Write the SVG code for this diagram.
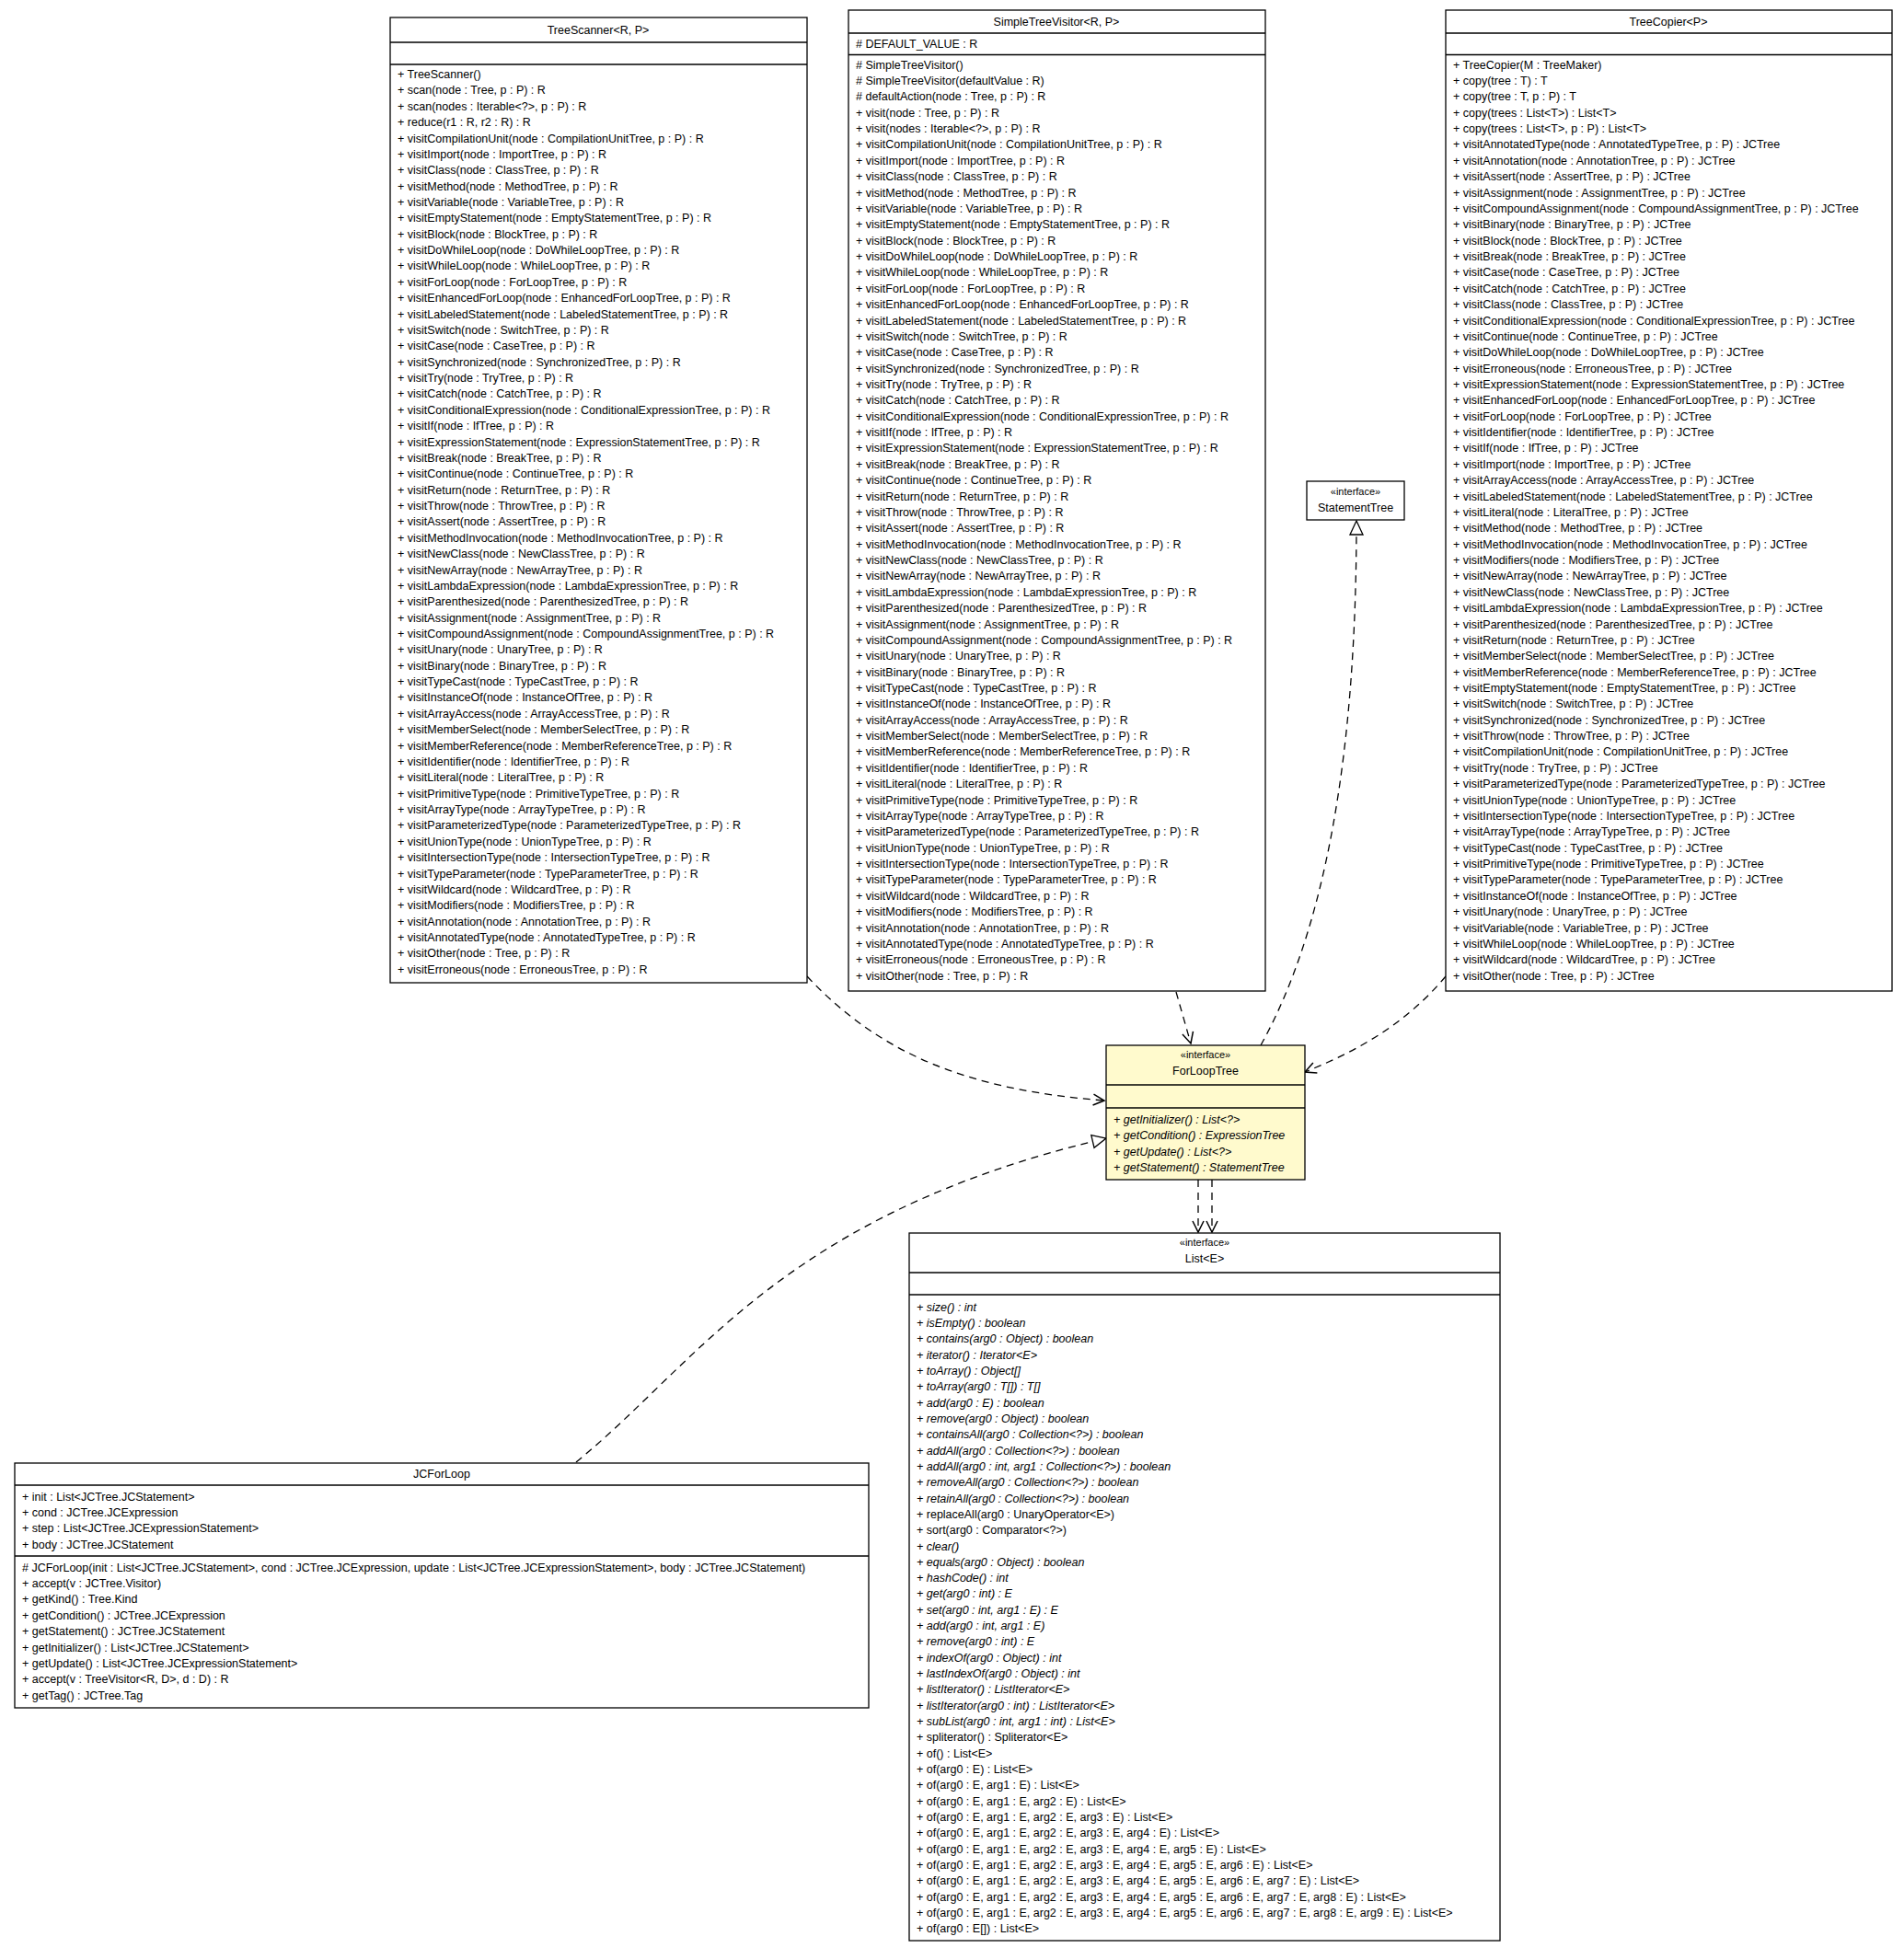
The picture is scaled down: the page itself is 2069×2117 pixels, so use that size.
<svg xmlns="http://www.w3.org/2000/svg" width="2069" height="2117" viewBox="0 0 2069 2117">
<style>
text{font-family:"Liberation Sans",Arial,sans-serif;font-size:12.5px;fill:#000}
.c{text-anchor:middle}
.i{font-style:italic}
.box{fill:#fff;stroke:#000;stroke-width:1.3}
.y{fill:#fffacd}
.ln{stroke:#000;stroke-width:1.3}
.e{fill:none;stroke:#000;stroke-width:1.3;stroke-dasharray:8,6}
</style>
<defs>
<marker id="open" markerWidth="16" markerHeight="16" refX="13" refY="8" orient="auto" markerUnits="userSpaceOnUse">
<path d="M1,2 L13,8 L1,14" fill="none" stroke="#000" stroke-width="1.5"/>
</marker>
<marker id="tri" markerWidth="20" markerHeight="20" refX="17" refY="10" orient="auto" markerUnits="userSpaceOnUse">
<path d="M2,3 L17,10 L2,17 Z" fill="#fff" stroke="#000" stroke-width="1.3"/>
</marker>
</defs>
<rect width="2069" height="2117" fill="#fff"/>

<g id="edges">
<path class="e" d="M877,1061 C960,1150 1060,1185 1200,1196" marker-end="url(#open)"/>
<path class="e" d="M1278,1078 L1294,1134" marker-end="url(#open)"/>
<path class="e" d="M1370,1136 C1440,1010 1474,820 1474,566" marker-end="url(#tri)"/>
<path class="e" d="M1571,1061 C1530,1110 1480,1140 1418,1165" marker-end="url(#open)"/>
<path class="e" d="M626,1589 C760,1480 850,1320 1202,1237" marker-end="url(#tri)"/>
<path class="e" d="M1302,1282 L1302,1339" marker-end="url(#open)"/>
<path class="e" d="M1317,1282 L1317,1339" marker-end="url(#open)"/>
</g>

<g id="TreeScanner">
<rect class="box" x="424" y="19" width="453" height="1049"/>
<line class="ln" x1="424" y1="46" x2="877" y2="46"/>
<line class="ln" x1="424" y1="70" x2="877" y2="70"/>
<text class="c" x="650" y="37">TreeScanner&lt;R, P&gt;</text>
<text x="432" y="85">+ TreeScanner()</text>
<text x="432" y="102.4">+ scan(node : Tree, p : P) : R</text>
<text x="432" y="119.7">+ scan(nodes : Iterable&lt;?&gt;, p : P) : R</text>
<text x="432" y="137.1">+ reduce(r1 : R, r2 : R) : R</text>
<text x="432" y="154.5">+ visitCompilationUnit(node : CompilationUnitTree, p : P) : R</text>
<text x="432" y="171.9">+ visitImport(node : ImportTree, p : P) : R</text>
<text x="432" y="189.2">+ visitClass(node : ClassTree, p : P) : R</text>
<text x="432" y="206.6">+ visitMethod(node : MethodTree, p : P) : R</text>
<text x="432" y="224">+ visitVariable(node : VariableTree, p : P) : R</text>
<text x="432" y="241.3">+ visitEmptyStatement(node : EmptyStatementTree, p : P) : R</text>
<text x="432" y="258.7">+ visitBlock(node : BlockTree, p : P) : R</text>
<text x="432" y="276.1">+ visitDoWhileLoop(node : DoWhileLoopTree, p : P) : R</text>
<text x="432" y="293.4">+ visitWhileLoop(node : WhileLoopTree, p : P) : R</text>
<text x="432" y="310.8">+ visitForLoop(node : ForLoopTree, p : P) : R</text>
<text x="432" y="328.2">+ visitEnhancedForLoop(node : EnhancedForLoopTree, p : P) : R</text>
<text x="432" y="345.6">+ visitLabeledStatement(node : LabeledStatementTree, p : P) : R</text>
<text x="432" y="362.9">+ visitSwitch(node : SwitchTree, p : P) : R</text>
<text x="432" y="380.3">+ visitCase(node : CaseTree, p : P) : R</text>
<text x="432" y="397.7">+ visitSynchronized(node : SynchronizedTree, p : P) : R</text>
<text x="432" y="415">+ visitTry(node : TryTree, p : P) : R</text>
<text x="432" y="432.4">+ visitCatch(node : CatchTree, p : P) : R</text>
<text x="432" y="449.8">+ visitConditionalExpression(node : ConditionalExpressionTree, p : P) : R</text>
<text x="432" y="467.1">+ visitIf(node : IfTree, p : P) : R</text>
<text x="432" y="484.5">+ visitExpressionStatement(node : ExpressionStatementTree, p : P) : R</text>
<text x="432" y="501.9">+ visitBreak(node : BreakTree, p : P) : R</text>
<text x="432" y="519.3">+ visitContinue(node : ContinueTree, p : P) : R</text>
<text x="432" y="536.6">+ visitReturn(node : ReturnTree, p : P) : R</text>
<text x="432" y="554">+ visitThrow(node : ThrowTree, p : P) : R</text>
<text x="432" y="571.4">+ visitAssert(node : AssertTree, p : P) : R</text>
<text x="432" y="588.7">+ visitMethodInvocation(node : MethodInvocationTree, p : P) : R</text>
<text x="432" y="606.1">+ visitNewClass(node : NewClassTree, p : P) : R</text>
<text x="432" y="623.5">+ visitNewArray(node : NewArrayTree, p : P) : R</text>
<text x="432" y="640.8">+ visitLambdaExpression(node : LambdaExpressionTree, p : P) : R</text>
<text x="432" y="658.2">+ visitParenthesized(node : ParenthesizedTree, p : P) : R</text>
<text x="432" y="675.6">+ visitAssignment(node : AssignmentTree, p : P) : R</text>
<text x="432" y="693">+ visitCompoundAssignment(node : CompoundAssignmentTree, p : P) : R</text>
<text x="432" y="710.3">+ visitUnary(node : UnaryTree, p : P) : R</text>
<text x="432" y="727.7">+ visitBinary(node : BinaryTree, p : P) : R</text>
<text x="432" y="745.1">+ visitTypeCast(node : TypeCastTree, p : P) : R</text>
<text x="432" y="762.4">+ visitInstanceOf(node : InstanceOfTree, p : P) : R</text>
<text x="432" y="779.8">+ visitArrayAccess(node : ArrayAccessTree, p : P) : R</text>
<text x="432" y="797.2">+ visitMemberSelect(node : MemberSelectTree, p : P) : R</text>
<text x="432" y="814.5">+ visitMemberReference(node : MemberReferenceTree, p : P) : R</text>
<text x="432" y="831.9">+ visitIdentifier(node : IdentifierTree, p : P) : R</text>
<text x="432" y="849.3">+ visitLiteral(node : LiteralTree, p : P) : R</text>
<text x="432" y="866.7">+ visitPrimitiveType(node : PrimitiveTypeTree, p : P) : R</text>
<text x="432" y="884">+ visitArrayType(node : ArrayTypeTree, p : P) : R</text>
<text x="432" y="901.4">+ visitParameterizedType(node : ParameterizedTypeTree, p : P) : R</text>
<text x="432" y="918.8">+ visitUnionType(node : UnionTypeTree, p : P) : R</text>
<text x="432" y="936.1">+ visitIntersectionType(node : IntersectionTypeTree, p : P) : R</text>
<text x="432" y="953.5">+ visitTypeParameter(node : TypeParameterTree, p : P) : R</text>
<text x="432" y="970.9">+ visitWildcard(node : WildcardTree, p : P) : R</text>
<text x="432" y="988.2">+ visitModifiers(node : ModifiersTree, p : P) : R</text>
<text x="432" y="1005.6">+ visitAnnotation(node : AnnotationTree, p : P) : R</text>
<text x="432" y="1023">+ visitAnnotatedType(node : AnnotatedTypeTree, p : P) : R</text>
<text x="432" y="1040.4">+ visitOther(node : Tree, p : P) : R</text>
<text x="432" y="1057.7">+ visitErroneous(node : ErroneousTree, p : P) : R</text>
</g>

<g id="SimpleTreeVisitor">
<rect class="box" x="922" y="11" width="453" height="1066"/>
<line class="ln" x1="922" y1="36" x2="1375" y2="36"/>
<line class="ln" x1="922" y1="59.5" x2="1375" y2="59.5"/>
<text class="c" x="1148" y="28">SimpleTreeVisitor&lt;R, P&gt;</text>
<text x="930" y="52">#  DEFAULT_VALUE : R</text>
<text x="930" y="74.5"># SimpleTreeVisitor()</text>
<text x="930" y="91.9"># SimpleTreeVisitor(defaultValue : R)</text>
<text x="930" y="109.3"># defaultAction(node : Tree, p : P) : R</text>
<text x="930" y="126.6">+ visit(node : Tree, p : P) : R</text>
<text x="930" y="144">+ visit(nodes : Iterable&lt;?&gt;, p : P) : R</text>
<text x="930" y="161.4">+ visitCompilationUnit(node : CompilationUnitTree, p : P) : R</text>
<text x="930" y="178.7">+ visitImport(node : ImportTree, p : P) : R</text>
<text x="930" y="196.1">+ visitClass(node : ClassTree, p : P) : R</text>
<text x="930" y="213.5">+ visitMethod(node : MethodTree, p : P) : R</text>
<text x="930" y="230.9">+ visitVariable(node : VariableTree, p : P) : R</text>
<text x="930" y="248.2">+ visitEmptyStatement(node : EmptyStatementTree, p : P) : R</text>
<text x="930" y="265.6">+ visitBlock(node : BlockTree, p : P) : R</text>
<text x="930" y="283">+ visitDoWhileLoop(node : DoWhileLoopTree, p : P) : R</text>
<text x="930" y="300.3">+ visitWhileLoop(node : WhileLoopTree, p : P) : R</text>
<text x="930" y="317.7">+ visitForLoop(node : ForLoopTree, p : P) : R</text>
<text x="930" y="335.1">+ visitEnhancedForLoop(node : EnhancedForLoopTree, p : P) : R</text>
<text x="930" y="352.5">+ visitLabeledStatement(node : LabeledStatementTree, p : P) : R</text>
<text x="930" y="369.8">+ visitSwitch(node : SwitchTree, p : P) : R</text>
<text x="930" y="387.2">+ visitCase(node : CaseTree, p : P) : R</text>
<text x="930" y="404.6">+ visitSynchronized(node : SynchronizedTree, p : P) : R</text>
<text x="930" y="421.9">+ visitTry(node : TryTree, p : P) : R</text>
<text x="930" y="439.3">+ visitCatch(node : CatchTree, p : P) : R</text>
<text x="930" y="456.7">+ visitConditionalExpression(node : ConditionalExpressionTree, p : P) : R</text>
<text x="930" y="474">+ visitIf(node : IfTree, p : P) : R</text>
<text x="930" y="491.4">+ visitExpressionStatement(node : ExpressionStatementTree, p : P) : R</text>
<text x="930" y="508.8">+ visitBreak(node : BreakTree, p : P) : R</text>
<text x="930" y="526.2">+ visitContinue(node : ContinueTree, p : P) : R</text>
<text x="930" y="543.5">+ visitReturn(node : ReturnTree, p : P) : R</text>
<text x="930" y="560.9">+ visitThrow(node : ThrowTree, p : P) : R</text>
<text x="930" y="578.3">+ visitAssert(node : AssertTree, p : P) : R</text>
<text x="930" y="595.6">+ visitMethodInvocation(node : MethodInvocationTree, p : P) : R</text>
<text x="930" y="613">+ visitNewClass(node : NewClassTree, p : P) : R</text>
<text x="930" y="630.4">+ visitNewArray(node : NewArrayTree, p : P) : R</text>
<text x="930" y="647.7">+ visitLambdaExpression(node : LambdaExpressionTree, p : P) : R</text>
<text x="930" y="665.1">+ visitParenthesized(node : ParenthesizedTree, p : P) : R</text>
<text x="930" y="682.5">+ visitAssignment(node : AssignmentTree, p : P) : R</text>
<text x="930" y="699.9">+ visitCompoundAssignment(node : CompoundAssignmentTree, p : P) : R</text>
<text x="930" y="717.2">+ visitUnary(node : UnaryTree, p : P) : R</text>
<text x="930" y="734.6">+ visitBinary(node : BinaryTree, p : P) : R</text>
<text x="930" y="752">+ visitTypeCast(node : TypeCastTree, p : P) : R</text>
<text x="930" y="769.3">+ visitInstanceOf(node : InstanceOfTree, p : P) : R</text>
<text x="930" y="786.7">+ visitArrayAccess(node : ArrayAccessTree, p : P) : R</text>
<text x="930" y="804.1">+ visitMemberSelect(node : MemberSelectTree, p : P) : R</text>
<text x="930" y="821.4">+ visitMemberReference(node : MemberReferenceTree, p : P) : R</text>
<text x="930" y="838.8">+ visitIdentifier(node : IdentifierTree, p : P) : R</text>
<text x="930" y="856.2">+ visitLiteral(node : LiteralTree, p : P) : R</text>
<text x="930" y="873.6">+ visitPrimitiveType(node : PrimitiveTypeTree, p : P) : R</text>
<text x="930" y="890.9">+ visitArrayType(node : ArrayTypeTree, p : P) : R</text>
<text x="930" y="908.3">+ visitParameterizedType(node : ParameterizedTypeTree, p : P) : R</text>
<text x="930" y="925.7">+ visitUnionType(node : UnionTypeTree, p : P) : R</text>
<text x="930" y="943">+ visitIntersectionType(node : IntersectionTypeTree, p : P) : R</text>
<text x="930" y="960.4">+ visitTypeParameter(node : TypeParameterTree, p : P) : R</text>
<text x="930" y="977.8">+ visitWildcard(node : WildcardTree, p : P) : R</text>
<text x="930" y="995.1">+ visitModifiers(node : ModifiersTree, p : P) : R</text>
<text x="930" y="1012.5">+ visitAnnotation(node : AnnotationTree, p : P) : R</text>
<text x="930" y="1029.9">+ visitAnnotatedType(node : AnnotatedTypeTree, p : P) : R</text>
<text x="930" y="1047.3">+ visitErroneous(node : ErroneousTree, p : P) : R</text>
<text x="930" y="1064.6">+ visitOther(node : Tree, p : P) : R</text>
</g>

<g id="TreeCopier">
<rect class="box" x="1571" y="11" width="485" height="1066"/>
<line class="ln" x1="1571" y1="36" x2="2056" y2="36"/>
<line class="ln" x1="1571" y1="59.5" x2="2056" y2="59.5"/>
<text class="c" x="1813" y="28">TreeCopier&lt;P&gt;</text>
<text x="1579" y="74.5">+ TreeCopier(M : TreeMaker)</text>
<text x="1579" y="91.9">+ copy(tree : T) : T</text>
<text x="1579" y="109.3">+ copy(tree : T, p : P) : T</text>
<text x="1579" y="126.6">+ copy(trees : List&lt;T&gt;) : List&lt;T&gt;</text>
<text x="1579" y="144">+ copy(trees : List&lt;T&gt;, p : P) : List&lt;T&gt;</text>
<text x="1579" y="161.4">+ visitAnnotatedType(node : AnnotatedTypeTree, p : P) : JCTree</text>
<text x="1579" y="178.7">+ visitAnnotation(node : AnnotationTree, p : P) : JCTree</text>
<text x="1579" y="196.1">+ visitAssert(node : AssertTree, p : P) : JCTree</text>
<text x="1579" y="213.5">+ visitAssignment(node : AssignmentTree, p : P) : JCTree</text>
<text x="1579" y="230.9">+ visitCompoundAssignment(node : CompoundAssignmentTree, p : P) : JCTree</text>
<text x="1579" y="248.2">+ visitBinary(node : BinaryTree, p : P) : JCTree</text>
<text x="1579" y="265.6">+ visitBlock(node : BlockTree, p : P) : JCTree</text>
<text x="1579" y="283">+ visitBreak(node : BreakTree, p : P) : JCTree</text>
<text x="1579" y="300.3">+ visitCase(node : CaseTree, p : P) : JCTree</text>
<text x="1579" y="317.7">+ visitCatch(node : CatchTree, p : P) : JCTree</text>
<text x="1579" y="335.1">+ visitClass(node : ClassTree, p : P) : JCTree</text>
<text x="1579" y="352.5">+ visitConditionalExpression(node : ConditionalExpressionTree, p : P) : JCTree</text>
<text x="1579" y="369.8">+ visitContinue(node : ContinueTree, p : P) : JCTree</text>
<text x="1579" y="387.2">+ visitDoWhileLoop(node : DoWhileLoopTree, p : P) : JCTree</text>
<text x="1579" y="404.6">+ visitErroneous(node : ErroneousTree, p : P) : JCTree</text>
<text x="1579" y="421.9">+ visitExpressionStatement(node : ExpressionStatementTree, p : P) : JCTree</text>
<text x="1579" y="439.3">+ visitEnhancedForLoop(node : EnhancedForLoopTree, p : P) : JCTree</text>
<text x="1579" y="456.7">+ visitForLoop(node : ForLoopTree, p : P) : JCTree</text>
<text x="1579" y="474">+ visitIdentifier(node : IdentifierTree, p : P) : JCTree</text>
<text x="1579" y="491.4">+ visitIf(node : IfTree, p : P) : JCTree</text>
<text x="1579" y="508.8">+ visitImport(node : ImportTree, p : P) : JCTree</text>
<text x="1579" y="526.2">+ visitArrayAccess(node : ArrayAccessTree, p : P) : JCTree</text>
<text x="1579" y="543.5">+ visitLabeledStatement(node : LabeledStatementTree, p : P) : JCTree</text>
<text x="1579" y="560.9">+ visitLiteral(node : LiteralTree, p : P) : JCTree</text>
<text x="1579" y="578.3">+ visitMethod(node : MethodTree, p : P) : JCTree</text>
<text x="1579" y="595.6">+ visitMethodInvocation(node : MethodInvocationTree, p : P) : JCTree</text>
<text x="1579" y="613">+ visitModifiers(node : ModifiersTree, p : P) : JCTree</text>
<text x="1579" y="630.4">+ visitNewArray(node : NewArrayTree, p : P) : JCTree</text>
<text x="1579" y="647.7">+ visitNewClass(node : NewClassTree, p : P) : JCTree</text>
<text x="1579" y="665.1">+ visitLambdaExpression(node : LambdaExpressionTree, p : P) : JCTree</text>
<text x="1579" y="682.5">+ visitParenthesized(node : ParenthesizedTree, p : P) : JCTree</text>
<text x="1579" y="699.9">+ visitReturn(node : ReturnTree, p : P) : JCTree</text>
<text x="1579" y="717.2">+ visitMemberSelect(node : MemberSelectTree, p : P) : JCTree</text>
<text x="1579" y="734.6">+ visitMemberReference(node : MemberReferenceTree, p : P) : JCTree</text>
<text x="1579" y="752">+ visitEmptyStatement(node : EmptyStatementTree, p : P) : JCTree</text>
<text x="1579" y="769.3">+ visitSwitch(node : SwitchTree, p : P) : JCTree</text>
<text x="1579" y="786.7">+ visitSynchronized(node : SynchronizedTree, p : P) : JCTree</text>
<text x="1579" y="804.1">+ visitThrow(node : ThrowTree, p : P) : JCTree</text>
<text x="1579" y="821.4">+ visitCompilationUnit(node : CompilationUnitTree, p : P) : JCTree</text>
<text x="1579" y="838.8">+ visitTry(node : TryTree, p : P) : JCTree</text>
<text x="1579" y="856.2">+ visitParameterizedType(node : ParameterizedTypeTree, p : P) : JCTree</text>
<text x="1579" y="873.6">+ visitUnionType(node : UnionTypeTree, p : P) : JCTree</text>
<text x="1579" y="890.9">+ visitIntersectionType(node : IntersectionTypeTree, p : P) : JCTree</text>
<text x="1579" y="908.3">+ visitArrayType(node : ArrayTypeTree, p : P) : JCTree</text>
<text x="1579" y="925.7">+ visitTypeCast(node : TypeCastTree, p : P) : JCTree</text>
<text x="1579" y="943">+ visitPrimitiveType(node : PrimitiveTypeTree, p : P) : JCTree</text>
<text x="1579" y="960.4">+ visitTypeParameter(node : TypeParameterTree, p : P) : JCTree</text>
<text x="1579" y="977.8">+ visitInstanceOf(node : InstanceOfTree, p : P) : JCTree</text>
<text x="1579" y="995.1">+ visitUnary(node : UnaryTree, p : P) : JCTree</text>
<text x="1579" y="1012.5">+ visitVariable(node : VariableTree, p : P) : JCTree</text>
<text x="1579" y="1029.9">+ visitWhileLoop(node : WhileLoopTree, p : P) : JCTree</text>
<text x="1579" y="1047.3">+ visitWildcard(node : WildcardTree, p : P) : JCTree</text>
<text x="1579" y="1064.6">+ visitOther(node : Tree, p : P) : JCTree</text>
</g>

<g id="StatementTree">
<rect class="box" x="1420" y="523" width="106" height="42"/>
<text class="c" x="1473" y="538" style="font-size:11px">«interface»</text>
<text class="c" x="1473" y="556">StatementTree</text>
</g>

<g id="ForLoopTree">
<rect class="box y" x="1202" y="1136" width="216" height="146"/>
<line class="ln" x1="1202" y1="1179" x2="1418" y2="1179"/>
<line class="ln" x1="1202" y1="1204" x2="1418" y2="1204"/>
<text class="c" x="1310" y="1150" style="font-size:11px">«interface»</text>
<text class="c" x="1310" y="1168">ForLoopTree</text>
<text class="i" x="1210" y="1220.5">+ getInitializer() : List&lt;?&gt;</text>
<text class="i" x="1210" y="1238">+ getCondition() : ExpressionTree</text>
<text class="i" x="1210" y="1255.5">+ getUpdate() : List&lt;?&gt;</text>
<text class="i" x="1210" y="1273">+ getStatement() : StatementTree</text>
</g>

<g id="List">
<rect class="box" x="988" y="1340" width="642" height="769"/>
<line class="ln" x1="988" y1="1383" x2="1630" y2="1383"/>
<line class="ln" x1="988" y1="1407" x2="1630" y2="1407"/>
<text class="c" x="1309" y="1354" style="font-size:11px">«interface»</text>
<text class="c" x="1309" y="1372">List&lt;E&gt;</text>
<text class="i" x="996" y="1424.5">+ size() : int</text>
<text class="i" x="996" y="1441.8">+ isEmpty() : boolean</text>
<text class="i" x="996" y="1459.2">+ contains(arg0 : Object) : boolean</text>
<text class="i" x="996" y="1476.5">+ iterator() : Iterator&lt;E&gt;</text>
<text class="i" x="996" y="1493.8">+ toArray() : Object[]</text>
<text class="i" x="996" y="1511.2">+ toArray(arg0 : T[]) : T[]</text>
<text class="i" x="996" y="1528.5">+ add(arg0 : E) : boolean</text>
<text class="i" x="996" y="1545.8">+ remove(arg0 : Object) : boolean</text>
<text class="i" x="996" y="1563.1">+ containsAll(arg0 : Collection&lt;?&gt;) : boolean</text>
<text class="i" x="996" y="1580.5">+ addAll(arg0 : Collection&lt;?&gt;) : boolean</text>
<text class="i" x="996" y="1597.8">+ addAll(arg0 : int, arg1 : Collection&lt;?&gt;) : boolean</text>
<text class="i" x="996" y="1615.1">+ removeAll(arg0 : Collection&lt;?&gt;) : boolean</text>
<text class="i" x="996" y="1632.5">+ retainAll(arg0 : Collection&lt;?&gt;) : boolean</text>
<text x="996" y="1649.8">+ replaceAll(arg0 : UnaryOperator&lt;E&gt;)</text>
<text x="996" y="1667.1">+ sort(arg0 : Comparator&lt;?&gt;)</text>
<text class="i" x="996" y="1684.5">+ clear()</text>
<text class="i" x="996" y="1701.8">+ equals(arg0 : Object) : boolean</text>
<text class="i" x="996" y="1719.1">+ hashCode() : int</text>
<text class="i" x="996" y="1736.4">+ get(arg0 : int) : E</text>
<text class="i" x="996" y="1753.8">+ set(arg0 : int, arg1 : E) : E</text>
<text class="i" x="996" y="1771.1">+ add(arg0 : int, arg1 : E)</text>
<text class="i" x="996" y="1788.4">+ remove(arg0 : int) : E</text>
<text class="i" x="996" y="1805.8">+ indexOf(arg0 : Object) : int</text>
<text class="i" x="996" y="1823.1">+ lastIndexOf(arg0 : Object) : int</text>
<text class="i" x="996" y="1840.4">+ listIterator() : ListIterator&lt;E&gt;</text>
<text class="i" x="996" y="1857.8">+ listIterator(arg0 : int) : ListIterator&lt;E&gt;</text>
<text class="i" x="996" y="1875.1">+ subList(arg0 : int, arg1 : int) : List&lt;E&gt;</text>
<text x="996" y="1892.4">+ spliterator() : Spliterator&lt;E&gt;</text>
<text x="996" y="1909.7">+ of() : List&lt;E&gt;</text>
<text x="996" y="1927.1">+ of(arg0 : E) : List&lt;E&gt;</text>
<text x="996" y="1944.4">+ of(arg0 : E, arg1 : E) : List&lt;E&gt;</text>
<text x="996" y="1961.7">+ of(arg0 : E, arg1 : E, arg2 : E) : List&lt;E&gt;</text>
<text x="996" y="1979.1">+ of(arg0 : E, arg1 : E, arg2 : E, arg3 : E) : List&lt;E&gt;</text>
<text x="996" y="1996.4">+ of(arg0 : E, arg1 : E, arg2 : E, arg3 : E, arg4 : E) : List&lt;E&gt;</text>
<text x="996" y="2013.7">+ of(arg0 : E, arg1 : E, arg2 : E, arg3 : E, arg4 : E, arg5 : E) : List&lt;E&gt;</text>
<text x="996" y="2031.1">+ of(arg0 : E, arg1 : E, arg2 : E, arg3 : E, arg4 : E, arg5 : E, arg6 : E) : List&lt;E&gt;</text>
<text x="996" y="2048.4">+ of(arg0 : E, arg1 : E, arg2 : E, arg3 : E, arg4 : E, arg5 : E, arg6 : E, arg7 : E) : List&lt;E&gt;</text>
<text x="996" y="2065.7">+ of(arg0 : E, arg1 : E, arg2 : E, arg3 : E, arg4 : E, arg5 : E, arg6 : E, arg7 : E, arg8 : E) : List&lt;E&gt;</text>
<text x="996" y="2083">+ of(arg0 : E, arg1 : E, arg2 : E, arg3 : E, arg4 : E, arg5 : E, arg6 : E, arg7 : E, arg8 : E, arg9 : E) : List&lt;E&gt;</text>
<text x="996" y="2100.4">+ of(arg0 : E[]) : List&lt;E&gt;</text>
</g>

<g id="JCForLoop">
<rect class="box" x="16" y="1590" width="928" height="266"/>
<line class="ln" x1="16" y1="1614" x2="944" y2="1614"/>
<line class="ln" x1="16" y1="1691" x2="944" y2="1691"/>
<text class="c" x="480" y="1606">JCForLoop</text>
<text x="24" y="1631">+ init : List&lt;JCTree.JCStatement&gt;</text>
<text x="24" y="1648">+ cond : JCTree.JCExpression</text>
<text x="24" y="1665">+ step : List&lt;JCTree.JCExpressionStatement&gt;</text>
<text x="24" y="1682.5">+ body : JCTree.JCStatement</text>
<text x="24" y="1707.5"># JCForLoop(init : List&lt;JCTree.JCStatement&gt;, cond : JCTree.JCExpression, update : List&lt;JCTree.JCExpressionStatement&gt;, body : JCTree.JCStatement)</text>
<text x="24" y="1725">+ accept(v : JCTree.Visitor)</text>
<text x="24" y="1742">+ getKind() : Tree.Kind</text>
<text x="24" y="1759.5">+ getCondition() : JCTree.JCExpression</text>
<text x="24" y="1777">+ getStatement() : JCTree.JCStatement</text>
<text x="24" y="1794.5">+ getInitializer() : List&lt;JCTree.JCStatement&gt;</text>
<text x="24" y="1812">+ getUpdate() : List&lt;JCTree.JCExpressionStatement&gt;</text>
<text x="24" y="1829">+ accept(v : TreeVisitor&lt;R, D&gt;, d : D) : R</text>
<text x="24" y="1846.5">+ getTag() : JCTree.Tag</text>
</g>
</svg>
